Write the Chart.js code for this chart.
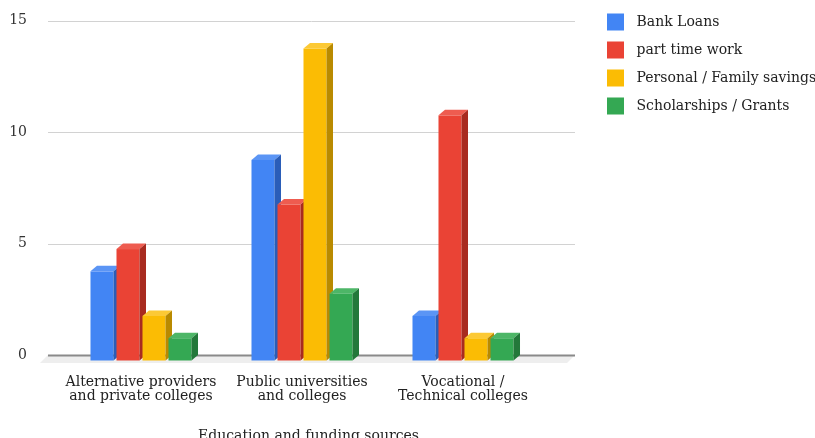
<!DOCTYPE html>
<html><head><meta charset="utf-8">
<script src="https://cdn.jsdelivr.net/npm/chart.js@4/dist/chart.umd.min.js"></script>
<style>html,body{margin:0;padding:0;overflow:hidden;background:#fff}#wrap{position:relative;width:815px;height:470px}</style>
</head><body><div id="wrap"><canvas id="c"></canvas></div>
<script>
const categories = [['Alternative providers','and private colleges'],['Public universities','and colleges'],['Vocational /','Technical colleges']];
const seriesNames = ['Bank Loans','part time work','Personal / Family savings','Scholarships / Grants'];
const bankLoans = [4, 9, 2];
const partTimeWork = [5, 7, 11];
const personalFamilySavings = [2, 14, 1];
const scholarshipsGrants = [1, 3, 1];
const yTicks = [0, 5, 10, 15];
const axisTitle = 'Education and funding sources';

const frontColors = ['#4285F4','#EA4335','#FBBC04','#34A853'];
const sideColors  = ['#2A5DB8','#A82B20','#B98A00','#23783A'];
const topColors   = ['#5B95F5','#EE5C50','#FCC935','#4DB667'];
const FONT = 'DejaVu Serif';
const DX = 6.5, DY = 5.5;

const threeD = {
  id: 'threeD',
  beforeDatasetsDraw(chart) {
    const {ctx, chartArea: a, scales: {y}} = chart;
    const L = a.left - 19, R = a.right + 25;
    const y0 = y.getPixelForValue(0);
    ctx.save();
    ctx.fillStyle = '#eeeeee';
    ctx.beginPath();
    ctx.moveTo(L, y0); ctx.lineTo(R, y0); ctx.lineTo(R - 8, y0 + 8); ctx.lineTo(L - 8, y0 + 8);
    ctx.closePath(); ctx.fill();
    y.ticks.forEach(t => {
      const py = Math.round(y.getPixelForValue(t.value)) + 0.5;
      ctx.strokeStyle = t.value === 0 ? '#8a8a8a' : '#d2d2d2';
      ctx.lineWidth = t.value === 0 ? 2 : 1;
      ctx.beginPath(); ctx.moveTo(L, py); ctx.lineTo(R, py); ctx.stroke();
    });
    ctx.restore();
  },
  afterDatasetsDraw(chart) {
    const ctx = chart.ctx;
    ctx.save();
    chart.data.datasets.forEach((ds, i) => {
      const meta = chart.getDatasetMeta(i);
      meta.data.forEach(el => {
        const {x, y, base, width} = el.getProps(['x', 'y', 'base', 'width'], true);
        const l = x - width / 2, r = x + width / 2;
        ctx.fillStyle = frontColors[i];
        ctx.fillRect(l - DX, y + DY, width, base - y);
        ctx.fillStyle = topColors[i];
        ctx.beginPath();
        ctx.moveTo(l - DX, y + DY); ctx.lineTo(l, y); ctx.lineTo(r, y); ctx.lineTo(r - DX, y + DY);
        ctx.closePath(); ctx.fill();
        ctx.fillStyle = sideColors[i];
        ctx.beginPath();
        ctx.moveTo(r - DX, y + DY); ctx.lineTo(r, y); ctx.lineTo(r, base); ctx.lineTo(r - DX, base + DY);
        ctx.closePath(); ctx.fill();
      });
    });
    ctx.restore();
  },
  afterDraw(chart) {
    const ctx = chart.ctx;
    ctx.save();
    ctx.font = '14px "' + FONT + '"';
    ctx.textBaseline = 'middle';
    chart.data.datasets.forEach((ds, i) => {
      const cy = 22 + 28 * i;
      ctx.fillStyle = frontColors[i];
      ctx.fillRect(607, cy - 8.5, 17, 17);
      ctx.fillStyle = '#222';
      ctx.fillText(ds.label, 636.5, cy);
    });
    ctx.restore();
  }
};

const seriesValues = [bankLoans, partTimeWork, personalFamilySavings, scholarshipsGrants];

new Chart(document.getElementById('c'), {
  type: 'bar',
  data: {
    labels: categories,
    datasets: seriesNames.map((name, i) => ({
      label: name,
      data: seriesValues[i],
      backgroundColor: 'rgba(0,0,0,0)',
      borderWidth: 0,
      categoryPercentage: 0.646,
      barPercentage: 0.885
    }))
  },
  options: {
    responsive: true,
    maintainAspectRatio: false,
    animation: false,
    layout: {padding: {top: 20.7, right: 265, bottom: 25, left: 0}},
    plugins: {legend: {display: false}, tooltip: {enabled: false}},
    scales: {
      x: {
        grid: {display: false},
        border: {display: false},
        afterFit(s) { s.height = 90; s.paddingLeft = 0; s.paddingRight = 0; },
        ticks: {padding: 12, labelOffset: -DX, color: '#222', maxRotation: 0, autoSkip: false,
                font: {family: FONT, size: 14, lineHeight: 1.04}},
        title: {display: true, text: axisTitle, color: '#222',
                font: {family: FONT, size: 14}, padding: {top: 22, bottom: 0}}
      },
      y: {
        min: 0, max: 15,
        afterBuildTicks(s) { s.ticks = yTicks.map(v => ({value: v})); },
        afterFit(s) { s.width = 67; s.paddingTop = 0; s.paddingBottom = 0; },
        grid: {display: false},
        border: {display: false},
        ticks: {padding: 32, color: '#333', font: {family: FONT, size: 14}}
      }
    }
  },
  plugins: [threeD]
});
</script>
</body></html>
